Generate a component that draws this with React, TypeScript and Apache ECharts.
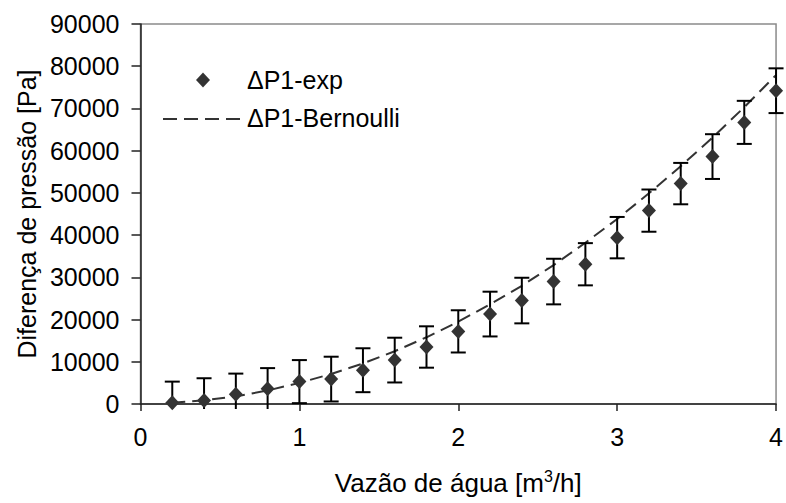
import React, { useEffect, useRef } from "react";
import * as echarts from "echarts";

// Water flow rate [m³/h]
const flowRates = [0.2, 0.4, 0.6, 0.8, 1.0, 1.2, 1.4, 1.6, 1.8, 2.0, 2.2, 2.4, 2.6, 2.8, 3.0, 3.2, 3.4, 3.6, 3.8, 4.0];
// Measured pressure difference ΔP1 [Pa]
const dpExp = [300, 800, 2300, 3600, 5300, 5900, 8000, 10400, 13500, 17200, 21300, 24500, 29000, 33100, 39400, 45800, 52200, 58600, 66700, 74200];
// Measurement uncertainty (±) [Pa]
const dpErr = [5000, 5300, 4900, 4900, 5100, 5300, 5200, 5300, 4900, 5000, 5300, 5400, 5400, 5000, 4900, 5000, 4900, 5300, 5100, 5300];
// Bernoulli prediction [Pa]
const dpBernoulli = [300, 900, 1800, 3200, 5000, 7100, 9600, 12500, 15800, 19500, 23600, 28000, 32900, 38200, 43800, 49900, 56300, 63100, 70300, 77900];

const xTicks = { min: 0, max: 4, interval: 1 };
const yTicks = { min: 0, max: 90000, interval: 10000 };

const FONT = "'Liberation Sans', Arial, sans-serif";
const INK = "#333333";

export default function App() {
  const ref = useRef<HTMLDivElement>(null);

  useEffect(() => {
    if (!ref.current) return;
    const chart = echarts.init(ref.current, undefined, { renderer: "svg" });

    const expData = flowRates.map((q, i) => [q, dpExp[i]]);
    const errData = flowRates.map((q, i) => [q, dpExp[i], dpErr[i]]);
    const bernData = flowRates.map((q, i) => [q, dpBernoulli[i]]);

    chart.setOption({
      animation: false,
      textStyle: { fontFamily: FONT },
      grid: {
        left: 140.5,
        top: 24,
        width: 637,
        height: 385,
        show: true,
        borderColor: "#8a8a8a",
        borderWidth: 1.5,
        backgroundColor: "#ffffff",
      },
      xAxis: {
        type: "value",
        ...xTicks,
        name: "{a|Vazão de água [m}{s|3}{a|/h]}",
        nameLocation: "middle",
        nameGap: 64,
        nameTextStyle: {
          rich: {
            a: { fontSize: 26, fontFamily: FONT, color: "#000", lineHeight: 30 },
            s: { fontSize: 16, fontFamily: FONT, color: "#000", lineHeight: 30, padding: [0, 0, 14, 0] },
          },
        },
        axisLine: { show: true, onZero: false, lineStyle: { color: "#222", width: 1.5 } },
        axisTick: { show: true, inside: false, length: 7, lineStyle: { color: "#222", width: 1.5 } },
        axisLabel: { fontSize: 25, color: "#000", margin: 20, fontFamily: FONT },
        splitLine: { show: false },
      },
      yAxis: {
        type: "value",
        ...yTicks,
        name: "Diferença de pressão [Pa]",
        nameLocation: "middle",
        nameGap: 100,
        nameTextStyle: { fontSize: 25, color: "#000", fontFamily: FONT },
        axisLine: { show: true, lineStyle: { color: "#222", width: 1.5 } },
        axisTick: { show: true, inside: false, length: 9, lineStyle: { color: "#222", width: 1.5 } },
        axisLabel: {
          fontSize: 25,
          color: "#000",
          margin: 21,
          fontFamily: FONT,
          formatter: (v: number) => String(v),
        },
        splitLine: { show: false },
      },
      series: [
        {
          name: "ΔP1-Bernoulli",
          type: "line",
          data: bernData,
          symbol: "none",
          smooth: false,
          lineStyle: { color: INK, width: 2, type: [13, 7] },
          z: 2,
        },
        {
          name: "ΔP1-exp error",
          type: "custom",
          data: errData,
          encode: { x: 0, y: 1 },
          clip: false,
          z: 3,
          renderItem: (params: any, api: any) => {
            const q = api.value(0);
            const v = api.value(1);
            const e = api.value(2);
            const top = api.coord([q, v + e]);
            const bot = api.coord([q, v - e]);
            const cs = params.coordSys;
            const floor = cs.y + cs.height + 5;
            const botY = Math.min(bot[1], floor);
            const half = 7.5;
            const style = { stroke: "#000", lineWidth: 2 };
            const children: any[] = [
              { type: "line", shape: { x1: top[0], y1: top[1], x2: top[0], y2: botY }, style },
              { type: "line", shape: { x1: top[0] - half, y1: top[1], x2: top[0] + half, y2: top[1] }, style },
            ];
            if (bot[1] <= floor) {
              children.push({ type: "line", shape: { x1: bot[0] - half, y1: bot[1], x2: bot[0] + half, y2: bot[1] }, style });
            }
            return { type: "group", children };
          },
        },
        {
          name: "ΔP1-exp",
          type: "scatter",
          data: expData,
          symbol: "diamond",
          symbolSize: [14, 15],
          itemStyle: { color: INK, opacity: 1 },
          z: 4,
        },
      ],
      graphic: [
        {
          type: "polygon",
          shape: { points: [[203, 72.5], [210, 80], [203, 87.5], [196, 80]] },
          style: { fill: INK },
        },
        {
          type: "text",
          x: 247,
          y: 80,
          style: { text: "ΔP1-exp", fontSize: 25, fontFamily: FONT, fill: "#000", verticalAlign: "middle" },
        },
        {
          type: "line",
          shape: { x1: 163, y1: 119, x2: 241, y2: 119 },
          style: { stroke: INK, lineWidth: 2, lineDash: [14, 7] },
        },
        {
          type: "text",
          x: 247,
          y: 118,
          style: { text: "ΔP1-Bernoulli", fontSize: 25, fontFamily: FONT, fill: "#000", verticalAlign: "middle" },
        },
      ],
    });

    return () => chart.dispose();
  }, []);

  return (
    <div
      ref={ref}
      style={{ position: "fixed", left: 0, top: 0, width: 786, height: 503, background: "#fff" }}
    />
  );
}
